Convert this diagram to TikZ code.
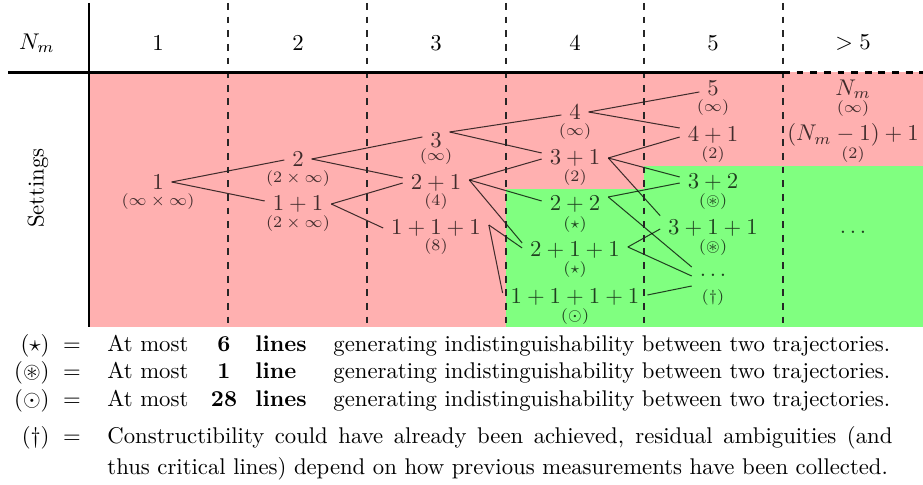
\documentclass[tikz,border=0pt]{standalone}
\usepackage{amssymb}
\usetikzlibrary{calc}
\begin{document}
\begin{tikzpicture}[x=0.44pt,y=-0.44pt,
  num/.style={text opacity=0.75, inner sep=3.333pt},
  lab/.style={text opacity=0.75, inner sep=0pt, font=\scriptsize},
  link/.style={draw opacity=0.75, line width=0.45pt},
  colsep/.style={dashed, line width=0.5pt, black!85},
  hdr/.style={inner sep=0pt},
  leg/.style={inner sep=0pt}]
\useasboundingbox (0,0) rectangle (923,485);
% backgrounds
\fill[red!31] (89,72) rectangle (923,327);
\fill[green!50] (506,189) rectangle (644,327);
\fill[green!50] (644,166) rectangle (923,327);
% header
\node[hdr] (hN) at (37,43) {$N_m$};
\node[hdr] (h1) at (158,43) {$1$};
\node[hdr] (h2) at (298,43) {$2$};
\node[hdr] (h3) at (436,43) {$3$};
\node[hdr] (h4) at (575,43) {$4$};
\node[hdr] (h5) at (713,43) {$5$};
\node[hdr] (h6) at (853,43) {$>5$};
\node[hdr, rotate=90] (set) at (38,188) {Settings};
% tree nodes
\node[num] (c1a) at (158,182) {$1$};
\node[lab] (c1al) at (158,202) {$(\infty\times\infty)$};
\node[num] (c2a) at (298,159) {$2$};
\node[lab] (c2al) at (298,179) {$(2\times\infty)$};
\node[num] (c2b) at (298,204) {$1+1$};
\node[lab] (c2bl) at (298,224) {$(2\times\infty)$};
\node[num] (c3a) at (436,140) {$3$};
\node[lab] (c3al) at (436,157) {$(\infty)$};
\node[num] (c3b) at (436,183) {$2+1$};
\node[lab] (c3bl) at (436,202) {$(4)$};
\node[num] (c3c) at (436,228) {$1+1+1$};
\node[lab] (c3cl) at (436,247) {$(8)$};
\node[num] (c4a) at (575,112) {$4$};
\node[lab] (c4al) at (575,132) {$(\infty)$};
\node[num] (c4b) at (575,158) {$3+1$};
\node[lab] (c4bl) at (575,178) {$(2)$};
\node[num] (c4c) at (575,204) {$2+2$};
\node[lab] (c4cl) at (575,225) {$(\star)$};
\node[num] (c4d) at (575,250) {$2+1+1$};
\node[lab] (c4dl) at (575,270) {$(\star)$};
\node[num] (c4e) at (575,297) {$1+1+1+1$};
\node[lab] (c4el) at (575,317) {$(\odot)$};
\node[num] (c5a) at (713,88) {$5$};
\node[lab] (c5al) at (713,108) {$(\infty)$};
\node[num] (c5b) at (713,135) {$4+1$};
\node[lab] (c5bl) at (713,155) {$(2)$};
\node[num] (c5c) at (713,182) {$3+2$};
\node[lab] (c5cl) at (713,202) {$(\circledast)$};
\node[num] (c5d) at (713,228) {$3+1+1$};
\node[lab] (c5dl) at (713,248) {$(\circledast)$};
\node[num] (c5e) at (713,275) {$\dots$};
\node[lab] (c5el) at (713,298) {$(\dagger)$};
\node[num] (c6a) at (853,89) {$N_m$};
\node[lab] (c6al) at (853,109) {$(\infty)$};
\node[num] (c6b) at (853,135) {$(N_m-1)+1$};
\node[lab] (c6bl) at (853,155) {$(2)$};
\node[num] (c6c) at (853,232) {$\dots$};
% edges
\draw[link] (c1a.east) -- ($(c2a.west)+(0,1)$);
\draw[link] (c1a.east) -- ($(c2b.west)+(0,-3)$);
\draw[link] (c2a.east) -- ($(c3a.west)+(0,-3)$);
\draw[link] (c2a.east) -- ($(c3b.west)+(0,-5)$);
\draw[link] (c2b.east) -- (c3b.west);
\draw[link] (c2b.east) -- (c3c.west);
\draw[link] ($(c3a.east)+(0,-8)$) -- ($(c4a.west)+(0,3)$);
\draw[link] ($(c3a.east)+(0,-8)$) -- ($(c4b.west)+(0,-5)$);
\draw[link] ($(c3b.east)+(0,-3)$) -- ($(c4b.west)+(0,1)$);
\draw[link] ($(c3b.east)+(0,-3)$) -- ($(c4c.west)+(0,-3)$);
\draw[link] ($(c3b.east)+(0,-3)$) -- ($(c4d.west)+(0,-7)$);
\draw[link] ($(c3c.east)+(0,-3)$) -- ($(c4d.west)+(0,-2)$);
\draw[link] ($(c3c.east)+(0,-3)$) -- ($(c4e.west)+(0,-4)$);
\draw[link] (c4a.east) -- ($(c5a.west)+(0,4)$);
\draw[link] (c4a.east) -- ($(c5b.west)+(0,-7)$);
\draw[link] (c4b.east) -- ($(c5b.west)+(0,2)$);
\draw[link] (c4b.east) -- ($(c5c.west)+(0,-5)$);
\draw[link] (c4b.east) -- ($(c5d.north west)+(0,4)$);
\draw[link] ($(c4c.east)+(0,-7)$) -- ($(c5c.west)+(0,1)$);
\draw[link] ($(c4c.east)+(0,-7)$) -- ($(c5e.west)+(0,-8)$);
\draw[link] ($(c4d.east)+(0,-3)$) -- ($(c5d.west)+(0,1)$);
\draw[link] ($(c4d.east)+(0,-3)$) -- ($(c5e.west)+(0,1)$);
\draw[link] ($(c4e.east)+(0,-2)$) -- ($(c5e.west)+(0,11)$);
% column separators and axes
\foreach \xx in {228,367,506,644,783} \draw[colsep] (\xx,3) -- (\xx,327);
\draw[line width=1.2pt] (89,3) -- (89,327);
\draw[line width=1pt] (8,72.5) -- (783,72.5);
\draw[line width=1pt, dashed] (783,72.5) -- (923,72.5);
% legend
\node[leg, anchor=base east] (s1) at (50,351) {$(\star)$};
\node[leg, anchor=base] (e1) at (72,351) {$=$};
\node[leg, anchor=base west] (t1) at (107,351) {At most};
\node[leg, anchor=base] (b1) at (224,351) {\textbf{6}};
\node[leg, anchor=base west] (l1) at (255,351) {\textbf{lines}};
\node[leg, anchor=base west] (g1) at (333,351) {generating indistinguishability between two trajectories.};
\node[leg, anchor=base east] (s2) at (50,378) {$(\circledast)$};
\node[leg, anchor=base] (e2) at (72,378) {$=$};
\node[leg, anchor=base west] (t2) at (107,378) {At most};
\node[leg, anchor=base] (b2) at (224,378) {\textbf{1}};
\node[leg, anchor=base west] (l2) at (255,378) {\textbf{line}};
\node[leg, anchor=base west] (g2) at (333,378) {generating indistinguishability between two trajectories.};
\node[leg, anchor=base east] (s3) at (50,406) {$(\odot)$};
\node[leg, anchor=base] (e3) at (72,406) {$=$};
\node[leg, anchor=base west] (t3) at (107,406) {At most};
\node[leg, anchor=base] (b3) at (224,406) {\textbf{28}};
\node[leg, anchor=base west] (l3) at (255,406) {\textbf{lines}};
\node[leg, anchor=base west] (g3) at (333,406) {generating indistinguishability between two trajectories.};
\node[leg, anchor=base east] (s4) at (50,443) {$(\dagger)$};
\node[leg, anchor=base] (e4) at (72,443) {$=$};
\node[leg, anchor=base west] (p1) at (107,443) {\makebox[345.4pt][s]{Constructibility could have already been achieved, residual ambiguities (and}};
\node[leg, anchor=base west] (p2) at (107,474) {thus critical lines) depend on how previous measurements have been collected.};
\end{tikzpicture}
\end{document}
